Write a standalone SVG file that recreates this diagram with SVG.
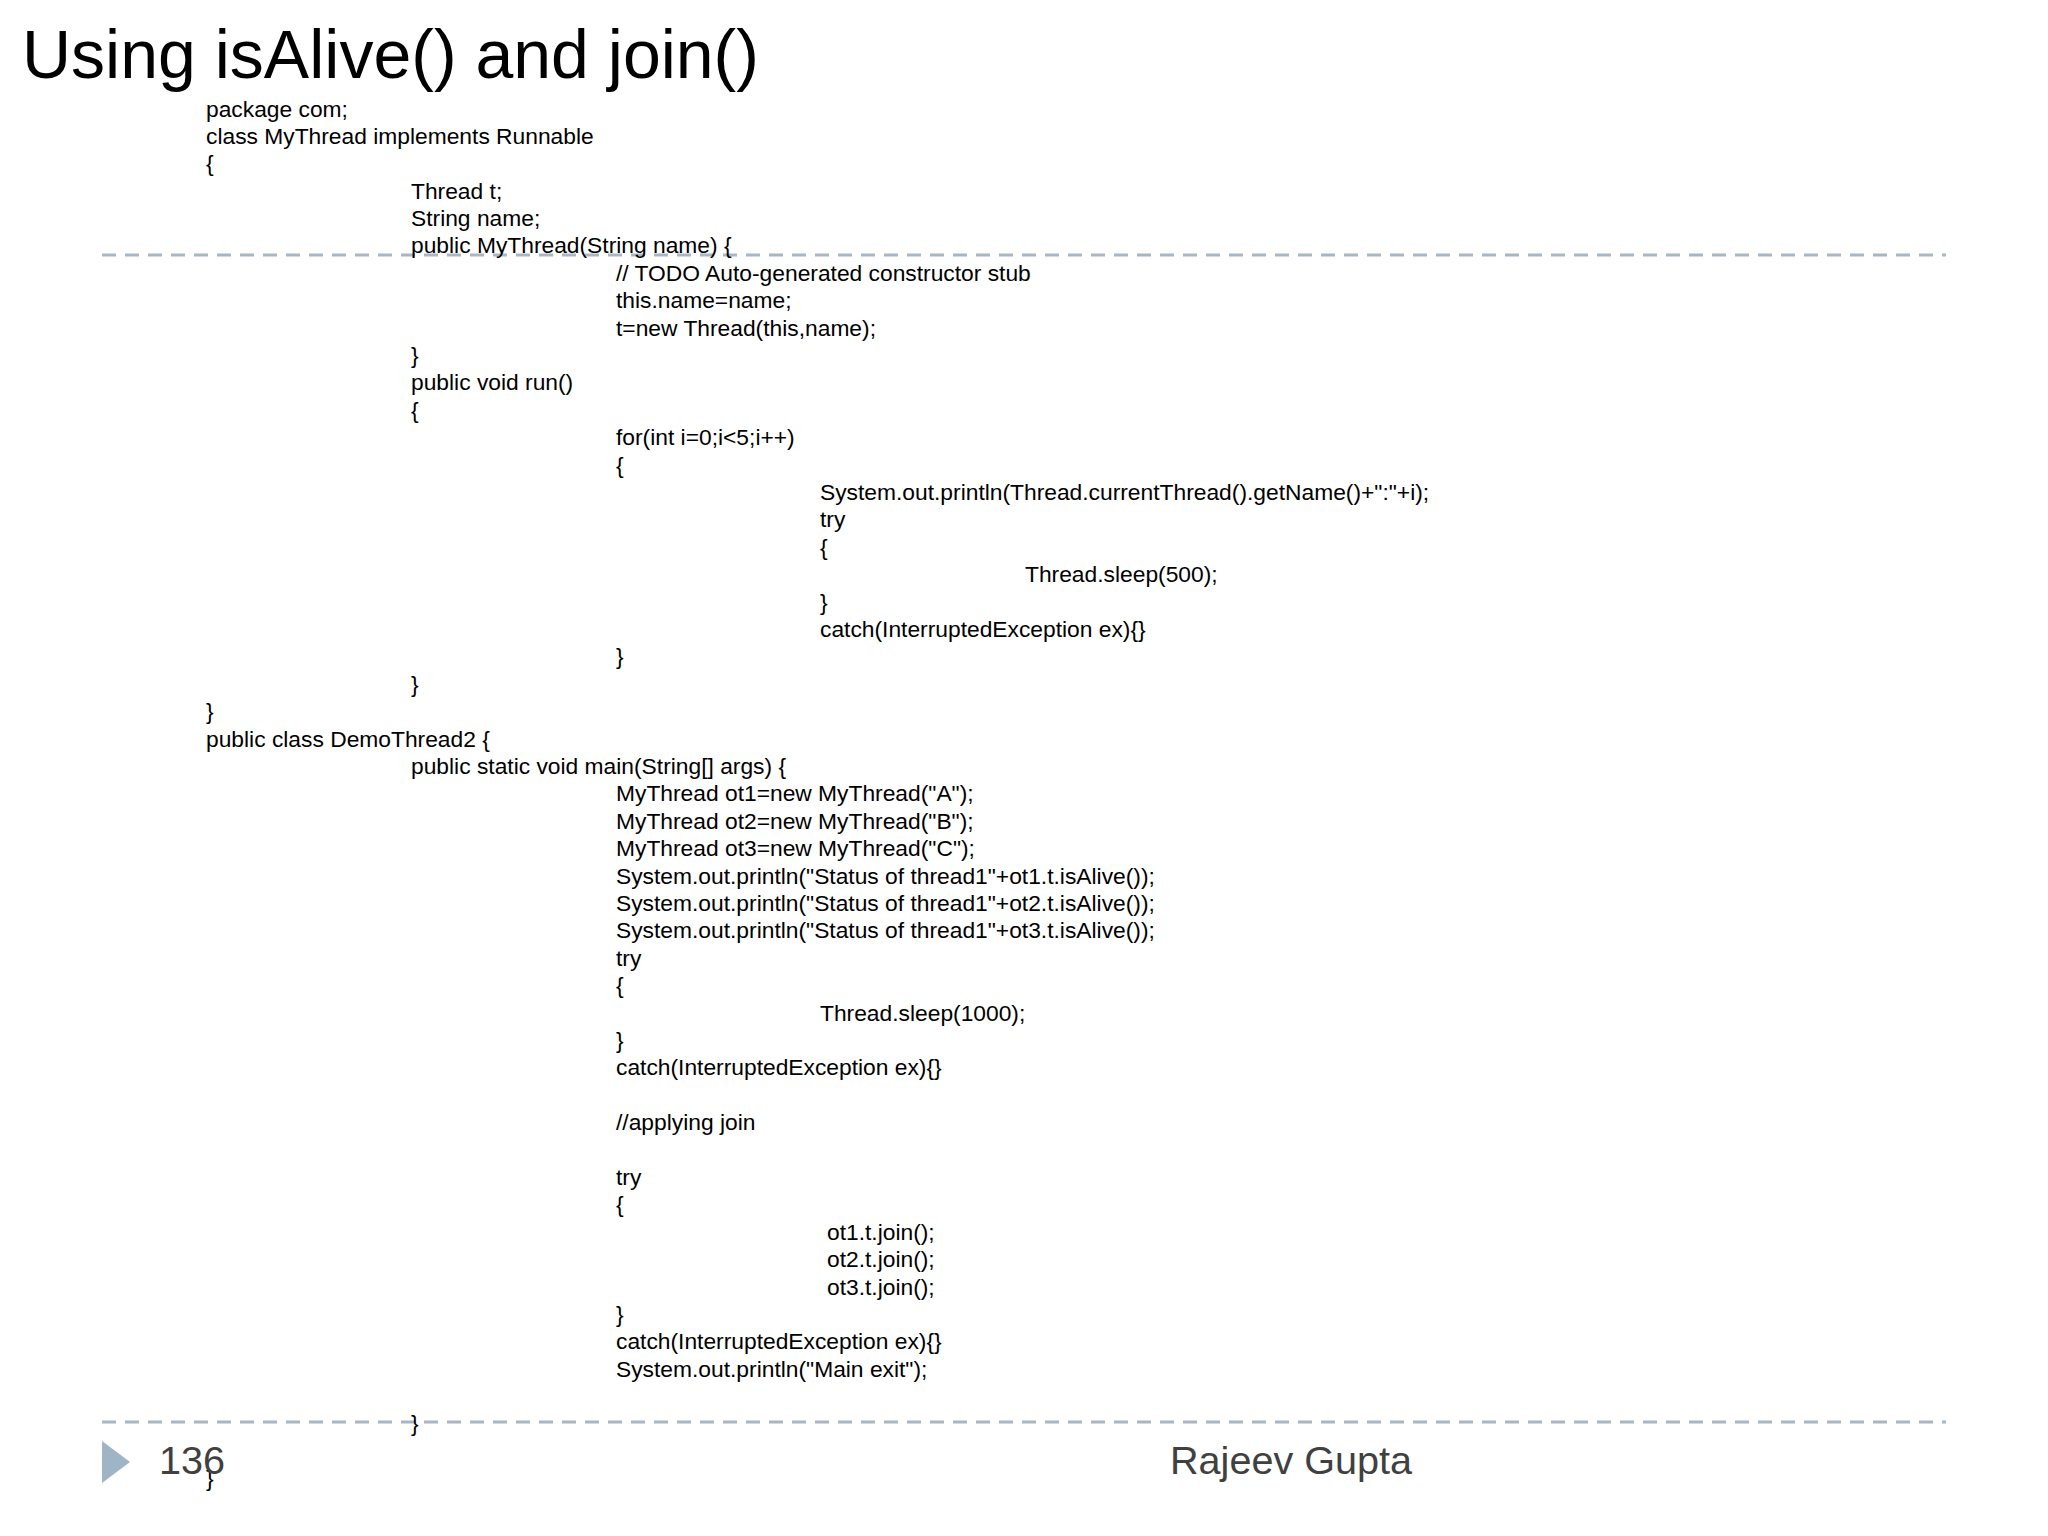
<svg xmlns="http://www.w3.org/2000/svg" width="2048" height="1536" viewBox="0 0 2048 1536">
<style>
.c{font-family:"Liberation Sans",Arial,sans-serif;font-size:22.8px;fill:#000}
.d{stroke:#a9b6c6;stroke-width:3;stroke-dasharray:14,9;fill:none}
.f{font-family:"Liberation Sans",Arial,sans-serif;font-size:39.6px;fill:#404040}
</style>
<rect width="2048" height="1536" fill="#fff"/>
<text x="22" y="78" font-family="Liberation Sans,Arial,sans-serif" font-size="68" fill="#000">Using isAlive() and join()</text>
<g id="lines">
<line class="d" x1="102" y1="255" x2="1946" y2="255"/>
<line class="d" x1="102" y1="1422" x2="1946" y2="1422"/>
</g>
<g id="code">
<text class="c" x="206" y="117">package com;</text>
<text class="c" x="206" y="144">class MyThread implements Runnable</text>
<text class="c" x="206" y="171">{</text>
<text class="c" x="411" y="199">Thread t;</text>
<text class="c" x="411" y="226">String name;</text>
<text class="c" x="411" y="253">public MyThread(String name) {</text>
<text class="c" x="616" y="281">// TODO Auto-generated constructor stub</text>
<text class="c" x="616" y="308">this.name=name;</text>
<text class="c" x="616" y="336">t=new Thread(this,name);</text>
<text class="c" x="411" y="363">}</text>
<text class="c" x="411" y="390">public void run()</text>
<text class="c" x="411" y="418">{</text>
<text class="c" x="616" y="445">for(int i=0;i&lt;5;i++)</text>
<text class="c" x="616" y="473">{</text>
<text class="c" x="820" y="500">System.out.println(Thread.currentThread().getName()+":"+i);</text>
<text class="c" x="820" y="527">try</text>
<text class="c" x="820" y="555">{</text>
<text class="c" x="1025" y="582">Thread.sleep(500);</text>
<text class="c" x="820" y="610">}</text>
<text class="c" x="820" y="637">catch(InterruptedException ex){}</text>
<text class="c" x="616" y="664">}</text>
<text class="c" x="411" y="692">}</text>
<text class="c" x="206" y="719">}</text>
<text class="c" x="206" y="747">public class DemoThread2 {</text>
<text class="c" x="411" y="774">public static void main(String[] args) {</text>
<text class="c" x="616" y="801">MyThread ot1=new MyThread("A");</text>
<text class="c" x="616" y="829">MyThread ot2=new MyThread("B");</text>
<text class="c" x="616" y="856">MyThread ot3=new MyThread("C");</text>
<text class="c" x="616" y="884">System.out.println("Status of thread1"+ot1.t.isAlive());</text>
<text class="c" x="616" y="911">System.out.println("Status of thread1"+ot2.t.isAlive());</text>
<text class="c" x="616" y="938">System.out.println("Status of thread1"+ot3.t.isAlive());</text>
<text class="c" x="616" y="966">try</text>
<text class="c" x="616" y="993">{</text>
<text class="c" x="820" y="1021">Thread.sleep(1000);</text>
<text class="c" x="616" y="1048">}</text>
<text class="c" x="616" y="1075">catch(InterruptedException ex){}</text>
<text class="c" x="616" y="1130">//applying join</text>
<text class="c" x="616" y="1185">try</text>
<text class="c" x="616" y="1212">{</text>
<text class="c" x="827" y="1240">ot1.t.join();</text>
<text class="c" x="827" y="1267">ot2.t.join();</text>
<text class="c" x="827" y="1295">ot3.t.join();</text>
<text class="c" x="616" y="1322">}</text>
<text class="c" x="616" y="1349">catch(InterruptedException ex){}</text>
<text class="c" x="616" y="1377">System.out.println("Main exit");</text>
<text class="c" x="411" y="1431">}</text>
<text class="c" x="206" y="1486">}</text>
</g>
<g id="footer">
<polygon points="102,1441 130,1462 102,1483" fill="#a0b4c8"/>
<text class="f" x="159" y="1474">136</text>
<text class="f" x="1170" y="1474">Rajeev Gupta</text>
</g>
</svg>
